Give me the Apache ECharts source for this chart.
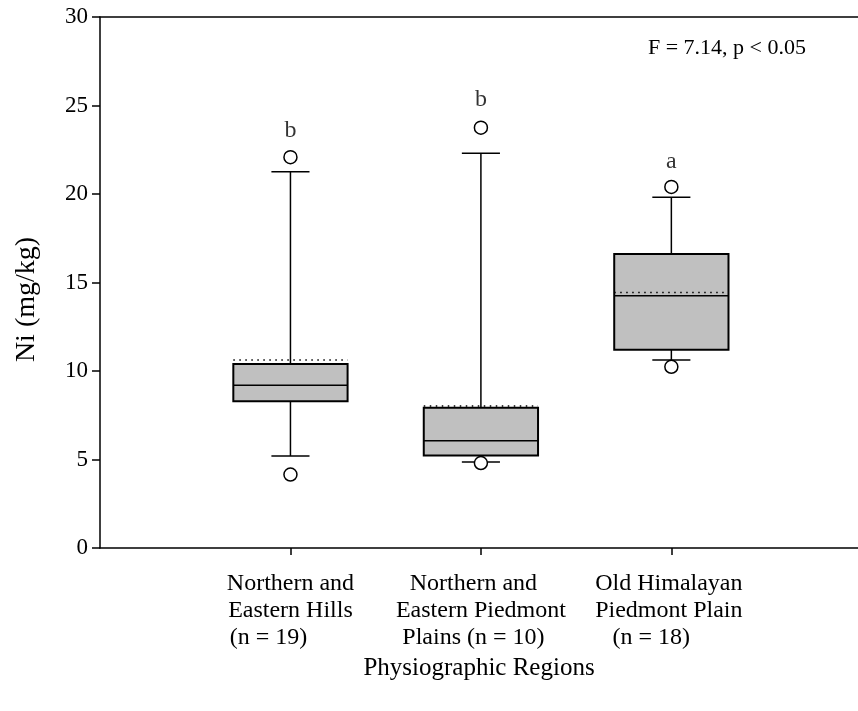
<!DOCTYPE html>
<html>
<head>
<meta charset="utf-8">
<script src="https://cdn.jsdelivr.net/npm/echarts@6/dist/echarts.min.js"></script>
<style>
  html, body { margin: 0; padding: 0; background: #fff; }
  #chart { width: 858px; height: 711px; }
</style>
</head>
<body>
<div id="chart"></div>
<script>
// Ni concentration by physiographic region (box plots)
const regionLines = [
  ['Northern and', 'Eastern Hills', '(n = 19)'],
  ['Northern and', 'Eastern Piedmont', 'Plains (n = 10)'],
  ['Old Himalayan', 'Piedmont Plain', '(n = 18)']
];
const positions = [1, 2, 3];
const whiskerLow = [5.2, 4.86, 10.62];
const q1 = [8.29, 5.22, 11.2];
const median = [9.19, 6.06, 14.25];
const q3 = [10.4, 7.93, 16.61];
const whiskerHigh = [21.26, 22.3, 19.81];
const means = [10.62, 8.02, 14.44];
const outliers = [[1, 22.08], [1, 4.15], [2, 23.75], [2, 4.8], [3, 20.4], [3, 10.24]];
const groupLetters = ['b', 'b', 'a'];
const letterY = [23.6, 25.35, 21.8];
const yTicks = { min: 0, max: 30, step: 5 };
const statText = 'F = 7.14, p < 0.05';

const FONT = 'Liberation Serif';
const BOX_HALF = 0.3;
const CAP_HALF = 0.1;
const X_MAX = 3.98;

const boxRows = positions.map((p, i) => [p, whiskerLow[i], q1[i], median[i], q3[i], whiskerHigh[i], means[i]]);

// per-line horizontal nudges of the category labels (right padding shifts a line left)
const linePad = [
  [0, 0, 44],
  [15, 0, 15],
  [5, 5, 40]
];

function renderBox(params, api) {
  const x = api.value(0);
  const lo = api.value(1), a = api.value(2), md = api.value(3), b = api.value(4), hi = api.value(5), mn = api.value(6);
  const pLoC = api.coord([x, lo]);
  const pHiC = api.coord([x, hi]);
  const pA = api.coord([x, a]);
  const pB = api.coord([x, b]);
  const left = api.coord([x - BOX_HALF, md])[0];
  const right = api.coord([x + BOX_HALF, md])[0];
  const capL = api.coord([x - CAP_HALF, md])[0];
  const capR = api.coord([x + CAP_HALF, md])[0];
  const yMd = api.coord([x, md])[1];
  const yMn = api.coord([x, mn])[1];
  const line = { stroke: '#000', lineWidth: 1.5 };
  return {
    type: 'group',
    children: [
      { type: 'line', shape: { x1: pB[0], y1: pB[1], x2: pHiC[0], y2: pHiC[1] }, style: line },
      { type: 'line', shape: { x1: pLoC[0], y1: pLoC[1], x2: pA[0], y2: pA[1] }, style: line },
      { type: 'line', shape: { x1: capL, y1: pHiC[1], x2: capR, y2: pHiC[1] }, style: line },
      { type: 'line', shape: { x1: capL, y1: pLoC[1], x2: capR, y2: pLoC[1] }, style: line },
      { type: 'rect', shape: { x: left, y: pB[1], width: right - left, height: pA[1] - pB[1] },
        style: { fill: '#c0c0c0', stroke: '#000', lineWidth: 2 } },
      { type: 'line', shape: { x1: left, y1: yMd, x2: right, y2: yMd }, style: line },
      { type: 'line', shape: { x1: left, y1: yMn, x2: right, y2: yMn },
        style: { stroke: '#000', lineWidth: 1.5, lineDash: [1.5, 4.5] } }
    ]
  };
}

const chart = echarts.init(document.getElementById('chart'), null, { renderer: 'canvas' });

const rich = {};
regionLines.forEach((lines, i) => {
  lines.forEach((_, j) => {
    rich['c' + i + '_' + j] = {
      fontFamily: FONT, fontSize: 24, color: '#000', lineHeight: 27,
      padding: [0, linePad[i][j], 0, 0]
    };
  });
});

chart.setOption({
  animation: false,
  backgroundColor: '#fff',
  grid: { left: 100, right: 0, top: 17, bottom: 163, show: false },
  graphic: [{
    type: 'text', right: 52, top: 37,
    style: { text: statText, fontFamily: FONT, fontSize: 22, fill: '#000' }
  }],
  xAxis: [{
    type: 'value', min: 0, max: X_MAX, interval: 1,
    splitLine: { show: false },
    axisLine: { show: true, onZero: false, lineStyle: { color: '#000', width: 1.5 } },
    axisTick: { show: true, length: 7, customValues: positions, lineStyle: { color: '#000', width: 1.5 } },
    axisLabel: {
      show: true, margin: 22, customValues: positions,
      formatter: function (v) {
        const i = positions.indexOf(v);
        if (i < 0) return '';
        return regionLines[i].map((t, j) => '{c' + i + '_' + j + '|' + t + '}').join('\n');
      },
      rich: rich
    },
    name: 'Physiographic Regions',
    nameLocation: 'middle', nameGap: 108,
    nameTextStyle: { fontFamily: FONT, fontSize: 25, color: '#000' }
  }, {
    // top frame line
    type: 'value', position: 'top', min: 0, max: X_MAX,
    splitLine: { show: false },
    axisLine: { show: true, onZero: false, lineStyle: { color: '#000', width: 1.5 } },
    axisTick: { show: false },
    axisLabel: { show: false }
  }],
  yAxis: {
    type: 'value', min: yTicks.min, max: yTicks.max, interval: yTicks.step,
    splitLine: { show: false },
    axisLine: { show: true, lineStyle: { color: '#000', width: 1.5 } },
    axisTick: { show: true, inside: false, length: 8, lineStyle: { color: '#000', width: 1.5 } },
    axisLabel: { fontFamily: FONT, fontSize: 23, color: '#000', margin: 12 },
    name: 'Ni (mg/kg)',
    nameLocation: 'middle', nameGap: 59,
    nameTextStyle: { fontFamily: FONT, fontSize: 28, color: '#000', padding: [0, 34, 0, 0] }
  },
  series: [
    {
      type: 'custom',
      renderItem: renderBox,
      data: boxRows,
      encode: { x: 0, y: [1, 2, 3, 4, 5, 6] },
      z: 2
    },
    {
      type: 'scatter',
      data: outliers,
      symbol: 'circle', symbolSize: 13,
      itemStyle: { color: '#fff', borderColor: '#000', borderWidth: 1.5, opacity: 1 },
      z: 3
    },
    {
      type: 'scatter',
      data: positions.map((p, i) => [p, letterY[i], groupLetters[i]]),
      symbolSize: 0,
      label: {
        show: true, position: 'inside',
        formatter: (p) => p.data[2],
        fontFamily: FONT, fontSize: 24, color: '#000'
      },
      z: 4
    }
  ]
});
</script>
</body>
</html>
